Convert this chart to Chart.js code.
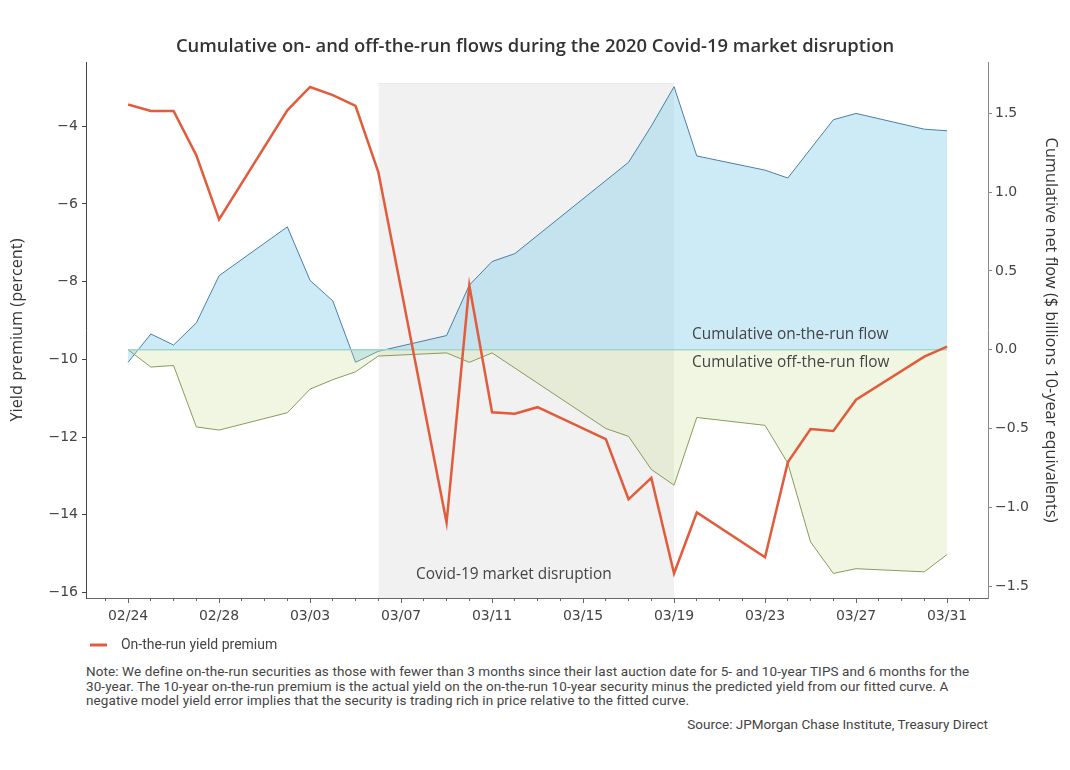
<!DOCTYPE html>
<html>
<head>
<meta charset="utf-8">
<script src="https://cdn.jsdelivr.net/npm/chart.js@4.4.1/dist/chart.umd.min.js"></script>
<style>
  body { margin: 0; background: #fff; }
  #wrap { position: relative; width: 1070px; height: 770px; background: #fff; }
  #chartBox { position: absolute; left: 0; top: 0; width: 1070px; height: 662px; }
  #note { position: absolute; left: 86px; top: 664px; font: 13.5px Roboto, sans-serif; line-height: 14.5px; letter-spacing: 0.1px; color: #444; white-space: nowrap; }
  #source { position: absolute; right: 82px; top: 716px; font: 13.5px Roboto, sans-serif; color: #444; }
</style>
</head>
<body>
<div id="wrap">
  <div id="chartBox"><canvas id="chart" width="1070" height="662"></canvas></div>
  <div id="note">Note: We define on-the-run securities as those with fewer than 3 months since their last auction date for 5- and 10-year TIPS and 6 months for the<br>30-year. The 10-year on-the-run premium is the actual yield on the on-the-run 10-year security minus the predicted yield from our fitted curve. A<br>negative model yield error implies that the security is trading rich in price relative to the fitted curve.</div>
  <div id="source">Source: JPMorgan Chase Institute, Treasury Direct</div>
</div>
<script>
// trading days (2020)
const dates = ['02/24','02/25','02/26','02/27','02/28','03/02','03/03','03/04','03/05','03/06',
  '03/09','03/10','03/11','03/12','03/13','03/16','03/17','03/18','03/19','03/20',
  '03/23','03/24','03/25','03/26','03/27','03/30','03/31'];

// on-the-run yield premium, percent (left axis)
const premium = [-3.44,-3.61,-3.61,-4.75,-6.40,-3.59,-2.99,-3.20,-3.48,-5.18,
  -14.20,-8.10,-11.36,-11.40,-11.23,-12.05,-13.60,-13.05,-15.51,-13.94,
  -15.09,-12.65,-11.79,-11.84,-11.04,-9.93,-9.67];

// cumulative flows, $ billions 10-year equivalents (right axis)
const onRunFlow = [-0.08,0.10,0.03,0.17,0.47,0.78,0.44,0.31,-0.08,-0.01,
  0.09,0.41,0.56,0.61,null,null,1.19,1.42,1.67,1.23,
  1.14,1.09,null,1.46,1.50,1.40,1.39];
const offRunFlow = [0,-0.11,-0.10,-0.49,-0.51,-0.40,-0.25,-0.19,-0.14,-0.04,
  -0.02,-0.08,-0.02,null,null,-0.50,-0.55,-0.76,-0.86,-0.43,
  -0.48,-0.72,-1.22,-1.42,-1.39,-1.41,-1.30];

const xTickDates = ['02/24','02/28','03/03','03/07','03/11','03/15','03/19','03/23','03/27','03/31'];
const leftTicks = [-16,-14,-12,-10,-8,-6,-4];
const rightTicks = [-1.5,-1.0,-0.5,0.0,0.5,1.0,1.5];
const disruption = ['03/06','03/19'];
const disruptionTop = 1.69;

const RED = '#e25b3b';
const MINUS = '\u2212';

function dayIndex(s) {
  const [m, d] = s.split('/').map(Number);
  return (Date.UTC(2020, m - 1, d) - Date.UTC(2020, 1, 24)) / 86400000;
}
const toPoints = vals => dates.map((d, i) => ({ x: dayIndex(d), y: vals[i] }));
const fmt = (v, digits) => (digits ? v.toFixed(digits) : String(v)).replace('-', MINUS);

const tickFont = { family: 'DejaVu Sans', size: 14 };
const titleFont = { family: 'Open Sans', size: 16.3 };

const labelPlugin = {
  id: 'areaLabels',
  afterDatasetsDraw(chart) {
    const ctx = chart.ctx;
    ctx.save();
    ctx.font = '15.4px "Open Sans"';
    ctx.fillStyle = '#444';
    ctx.textBaseline = 'middle';
    ctx.fillText('Cumulative on-the-run flow', 692, 335);
    ctx.fillText('Cumulative off-the-run flow', 692, 363);
    ctx.fillText('Covid-19 market disruption', 416, 575);
    ctx.restore();
  }
};

new Chart(document.getElementById('chart'), {
  type: 'line',
  data: {
    datasets: [
      {
        label: 'On-the-run yield premium',
        data: toPoints(premium),
        yAxisID: 'yL',
        borderColor: RED,
        backgroundColor: RED,
        borderWidth: 2.5,
        pointRadius: 0,
        fill: false,
        order: 0
      },
      {
        label: 'Cumulative on-the-run flow',
        data: toPoints(onRunFlow),
        yAxisID: 'yR',
        borderColor: '#4a7fa8',
        backgroundColor: 'rgba(135,206,235,0.42)',
        borderWidth: 1,
        pointRadius: 0,
        spanGaps: true,
        fill: 'origin',
        order: 2
      },
      {
        label: 'Cumulative off-the-run flow',
        data: toPoints(offRunFlow),
        yAxisID: 'yR',
        borderColor: '#8a9a5b',
        backgroundColor: 'rgba(200,220,140,0.25)',
        borderWidth: 1,
        pointRadius: 0,
        spanGaps: true,
        fill: 'origin',
        order: 1
      },
      {
        label: 'zero',
        data: [dates[0], dates[dates.length - 1]].map(d => ({ x: dayIndex(d), y: 0 })),
        yAxisID: 'yR',
        borderColor: 'rgba(150,212,205,0.9)',
        borderWidth: 1.5,
        pointRadius: 0,
        fill: false,
        order: 0.5
      },
      {
        label: 'Covid-19 market disruption',
        data: disruption.map(d => ({ x: dayIndex(d), y: disruptionTop })),
        yAxisID: 'yR',
        borderColor: '#e8e8e8',
        backgroundColor: '#f1f1f1',
        borderWidth: 1,
        pointRadius: 0,
        fill: 'start',
        order: 3
      }
    ]
  },
  options: {
    responsive: false,
    animation: false,
    events: [],
    layout: { padding: 0 },
    scales: {
      xMinor: {
        type: 'linear',
        position: 'bottom',
        min: -1.85, max: 37.8,
        bounds: 'data',
        weight: 0,
        afterBuildTicks: s => {
          const t = [];
          for (let v = Math.ceil(s.min); v <= Math.floor(s.max); v++) t.push({ value: v });
          s.ticks = t;
        },
        afterFit: s => { s.height = 0; },
        border: { display: false },
        grid: { drawOnChartArea: false, tickLength: 3, color: '#666' },
        ticks: { display: false }
      },
      x: {
        type: 'linear',
        position: 'bottom',
        min: -1.85, max: 37.8,
        bounds: 'data',
        weight: 1,
        afterBuildTicks: s => { s.ticks = xTickDates.map(d => ({ value: dayIndex(d) })); },
        afterFit: s => { s.height = 36; },
        border: { color: '#666' },
        grid: { drawOnChartArea: false, tickLength: 5, color: '#666' },
        ticks: {
          autoSkip: false, maxRotation: 0, padding: 5,
          font: tickFont, color: '#444',
          callback: (v, i) => xTickDates[i]
        }
      },
      yL: {
        type: 'linear',
        position: 'left',
        min: -16.14, max: -2.35,
        bounds: 'data',
        afterBuildTicks: s => { s.ticks = leftTicks.map(v => ({ value: v })); },
        afterFit: s => { s.width = 86; },
        border: { color: '#444' },
        grid: { drawOnChartArea: false, tickLength: 4, color: '#444' },
        ticks: { padding: 4, font: tickFont, color: '#444', callback: v => fmt(v) },
        title: { display: true, text: 'Yield premium (percent)', font: titleFont, color: '#333', padding: { top: 8, bottom: 0 } }
      },
      yR: {
        type: 'linear',
        position: 'right',
        min: -1.576, max: 1.826,
        bounds: 'data',
        afterBuildTicks: s => { s.ticks = rightTicks.map(v => ({ value: v })); },
        afterFit: s => { s.width = 82; },
        border: { color: '#888' },
        grid: { drawOnChartArea: false, tickLength: 4, color: '#888' },
        ticks: { padding: 3, font: tickFont, color: '#444', callback: v => fmt(v, 1) },
        title: { display: true, text: 'Cumulative net flow ($ billions 10-year equivalents)', font: titleFont, color: '#333', padding: { top: 10, bottom: 0 } }
      }
    },
    plugins: {
      title: {
        display: true,
        text: 'Cumulative on- and off-the-run flows during the 2020 Covid-19 market disruption',
        font: { family: 'Open Sans', size: 18.4, weight: '600' },
        color: '#333',
        padding: { top: 36, bottom: 4 }
      },
      legend: {
        display: true,
        position: 'bottom',
        align: 'start',
        fullSize: false,
        labels: {
          boxWidth: 17,
          boxHeight: 3,
          padding: 4,
          font: { family: 'Roboto', size: 14 },
          color: '#444',
          generateLabels: chart => Chart.defaults.plugins.legend.labels.generateLabels(chart)
            .filter(l => l.datasetIndex === 0)
            .map(l => ({ ...l, text: '  ' + l.text, lineWidth: 0 }))
        }
      },
      tooltip: { enabled: false }
    }
  },
  plugins: [labelPlugin]
});
</script>
</body>
</html>
